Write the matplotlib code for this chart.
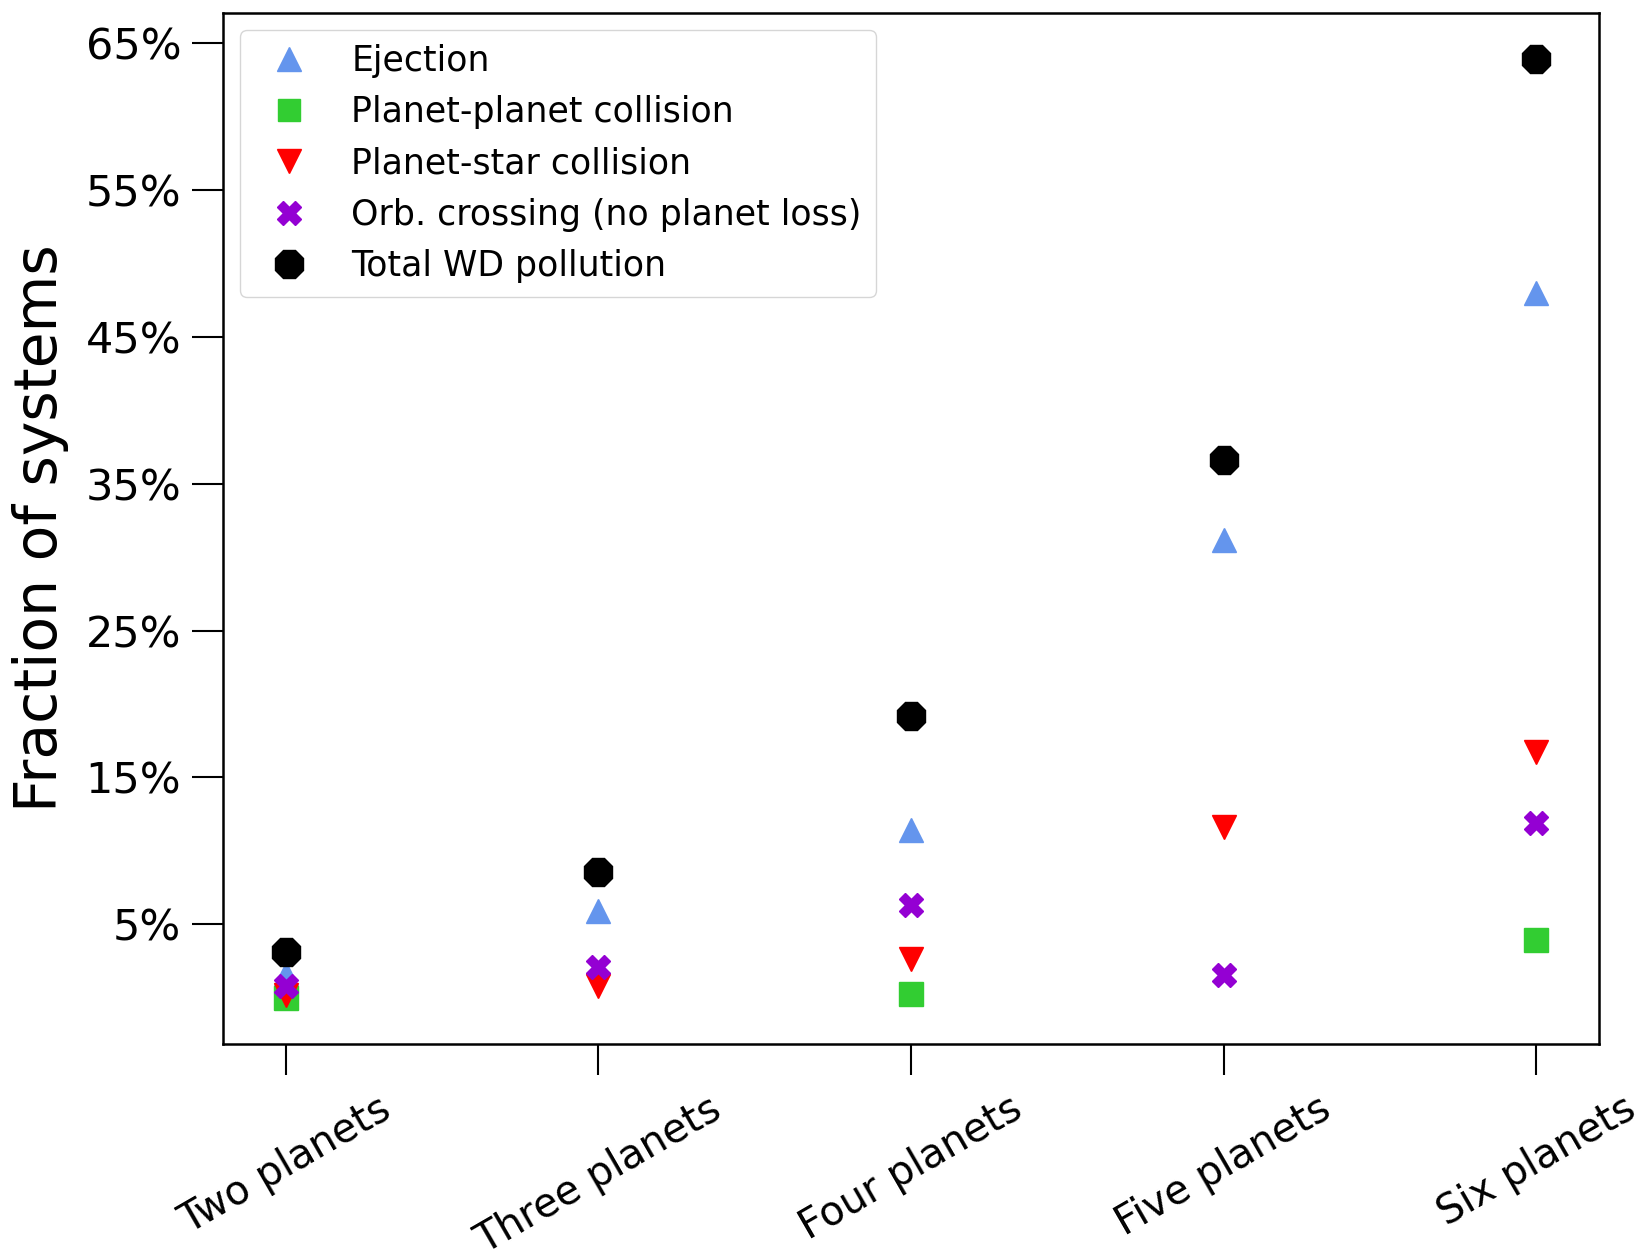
import numpy as np
import matplotlib
matplotlib.use("Agg")
import matplotlib.pyplot as plt

# fraction of systems (in %) for each outcome, per planet multiplicity
categories = ["Two planets", "Three planets", "Four planets", "Five planets", "Six planets"]
ejection = [1.6, 5.9, 11.4, 31.2, 48.0]
pp_collision = [0.0, np.nan, 0.25, np.nan, 3.9]
ps_collision = [0.2, 0.8, 2.6, 11.6, 16.7]
orb_crossing = [0.8, 2.1, 6.3, 1.55, 11.9]
total_pollution = [3.1, 8.55, 19.2, 36.6, 63.9]

yticks = [5, 15, 25, 35, 45, 55, 65]

fig = plt.figure(figsize=(16.41, 12.59), dpi=100)
ax = fig.add_axes([0.1359, 0.1704, 0.8385, 0.8196])

x = np.arange(len(categories))
ms = 17.5
ax.plot(x, ejection, ls='none', marker='^', ms=ms, color='cornflowerblue',
        label='Ejection')
ax.plot(x, pp_collision, ls='none', marker='s', ms=ms*0.95, color='limegreen',
        label='Planet-planet collision')
ax.plot(x, ps_collision, ls='none', marker='v', ms=ms, color='red',
        label='Planet-star collision')
ax.plot(x, orb_crossing, ls='none', marker='X', ms=ms, color='darkviolet',
        label='Orb. crossing (no planet loss)')
ax.plot(x, total_pollution, ls='none', marker='8', ms=22.5, color='black',
        label='Total WD pollution')

ax.set_xticks(x)
ax.set_xticklabels(categories, rotation=30, ha='center', fontsize=29)
ax.set_yticks(yticks)
ax.set_yticklabels([f"{v}%" for v in yticks], fontsize=31)
ax.set_ylabel("Fraction of systems", fontsize=42, labelpad=12)

ax.tick_params(axis='both', direction='out', length=22, width=1.5, pad=8)
ax.tick_params(axis='x', pad=10)
for sp in ax.spines.values():
    sp.set_linewidth(1.8)

ax.legend(loc='upper left', fontsize=25, markerscale=0.95, numpoints=1,
          frameon=True, edgecolor='#cccccc', fancybox=True)

plt.savefig("out.png", dpi=100)
